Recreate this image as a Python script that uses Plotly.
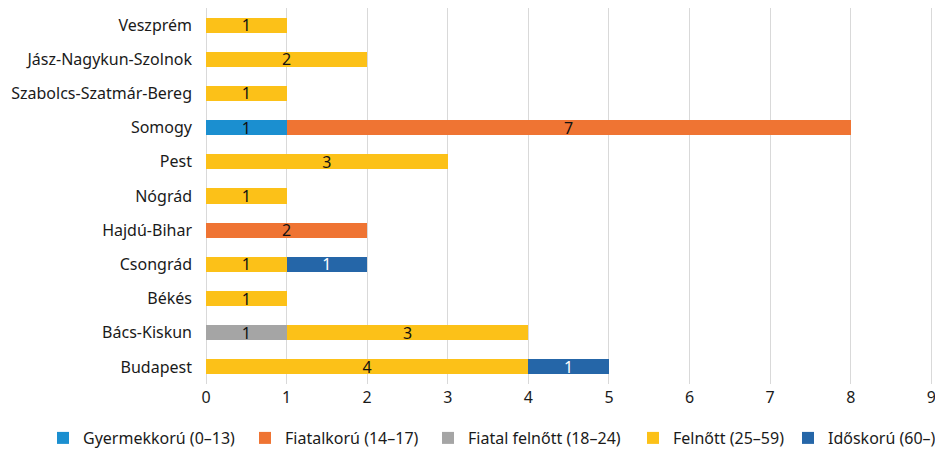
import plotly.graph_objects as go

categories = ["Budapest", "Bács-Kiskun", "Békés", "Csongrád", "Hajdú-Bihar", "Nógrád",
              "Pest", "Somogy", "Szabolcs-Szatmár-Bereg", "Jász-Nagykun-Szolnok", "Veszprém"]

gyermek = [None, None, None, None, None, None, None, 1, None, None, None]
fiatalkoru = [None, None, None, None, 2, None, None, 7, None, None, None]
fiatal_felnott = [None, 1, None, None, None, None, None, None, None, None, None]
felnott = [4, 3, 1, 1, None, 1, 3, None, 1, 2, 1]
idos = [1, None, None, 1, None, None, None, None, None, None, None]

series = [
    ("Gyermekkorú (0–13)", gyermek, "#1b8fd0", "#111111"),
    ("Fiatalkorú (14–17)", fiatalkoru, "#ef7433", "#111111"),
    ("Fiatal felnőtt (18–24)", fiatal_felnott, "#a5a5a5", "#111111"),
    ("Felnőtt (25–59)", felnott, "#fcc118", "#111111"),
    ("Időskorú (60–)", idos, "#2566a8", "#ffffff"),
]

x_ticks = list(range(0, 10))

W, H = 935, 443
legend_text_x = [75, 277, 460, 665, 820]

fig = go.Figure()
layout_legends = {}
for i, (name, vals, color, tcolor) in enumerate(series):
    lname = "legend" if i == 0 else f"legend{i+1}"
    fig.add_trace(go.Bar(
        y=categories, x=vals, name=name, orientation="h",
        marker=dict(color=color, line=dict(width=0)),
        text=[str(v) if v else "" for v in vals],
        textposition="inside", insidetextanchor="middle", textangle=0,
        constraintext="none",
        textfont=dict(color=tcolor, size=16, family="Noto Sans"),
        width=0.44,
        legend=lname,
    ))
    layout_legends[lname] = dict(
        orientation="h", xref="container", yref="container",
        x=(legend_text_x[i] - 40) / W, xanchor="left",
        y=13 / H, yanchor="middle",
        font=dict(size=16), itemwidth=30, bgcolor="rgba(0,0,0,0)",
    )

fig.update_layout(
    barmode="stack",
    width=W, height=H,
    margin=dict(l=198, r=10, t=0, b=67),
    plot_bgcolor="white", paper_bgcolor="white",
    font=dict(family="Noto Sans", size=16, color="#1a1a1a"),
    showlegend=True,
    **layout_legends,
)
fig.update_xaxes(range=[0, 9.02], tickvals=x_ticks, showgrid=True, gridcolor="#d9d9d9",
                 gridwidth=1, zeroline=True, zerolinecolor="#d9d9d9", zerolinewidth=1,
                 showline=False, ticks="", tickfont=dict(size=16), automargin=False,
                 ticklabelstandoff=2, ticklabeloverflow="allow")
fig.update_yaxes(categoryorder="array", categoryarray=categories, showgrid=False,
                 ticks="", ticklabelstandoff=13, tickfont=dict(size=16), automargin=False)

fig.write_html("out.html")
